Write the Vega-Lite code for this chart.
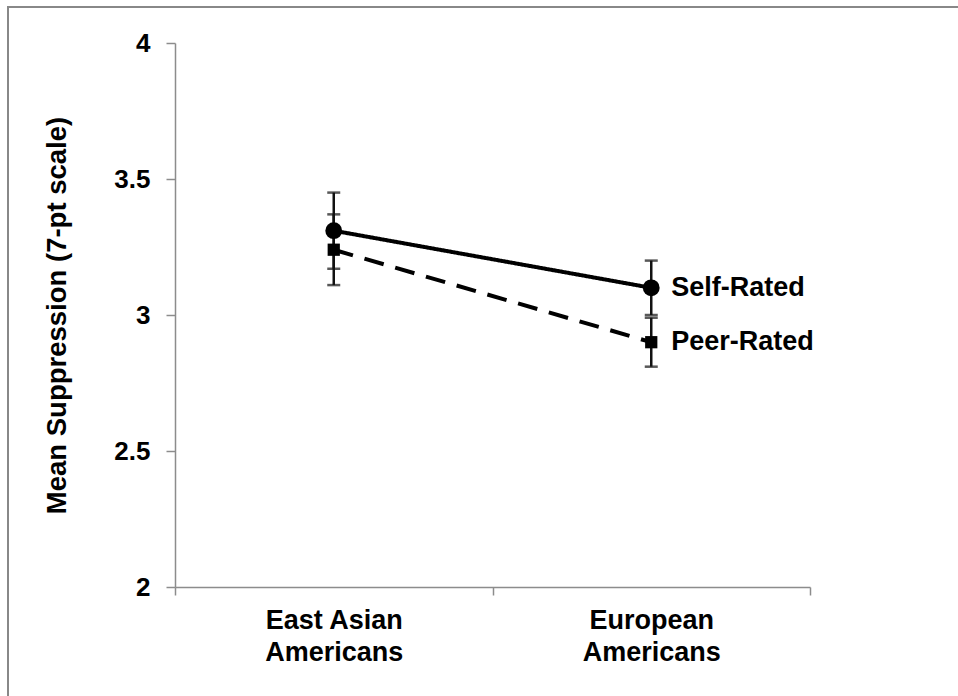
{
  "$schema": "https://vega.github.io/schema/vega-lite/v6.json",
  "width": 950,
  "height": 689,
  "autosize": {"type": "none"},
  "padding": {"left": 8, "top": 7, "right": 0, "bottom": 0},
  "background": "white",
  "config": {
    "view": {"stroke": "#888888", "strokeWidth": 2, "strokeDash": [950, 1639, 689, 1]},
    "font": "Liberation Sans",
    "axis": {
      "grid": false,
      "domainColor": "#8c8c8c",
      "tickColor": "#8c8c8c",
      "domainWidth": 1.5,
      "tickWidth": 1.5,
      "labelFont": "Liberation Sans",
      "labelFontWeight": "bold",
      "labelColor": "black",
      "titleFont": "Liberation Sans",
      "titleFontWeight": "bold",
      "titleColor": "black"
    }
  },
  "data": {
    "values": [
      {"group": "East Asian Americans", "rating": "Self-Rated", "mean": 3.31, "lo": 3.17, "hi": 3.45},
      {"group": "European Americans", "rating": "Self-Rated", "mean": 3.10, "lo": 3.00, "hi": 3.20},
      {"group": "East Asian Americans", "rating": "Peer-Rated", "mean": 3.24, "lo": 3.11, "hi": 3.37},
      {"group": "European Americans", "rating": "Peer-Rated", "mean": 2.90, "lo": 2.81, "hi": 2.99}
    ]
  },
  "encoding": {
    "x": {
      "field": "group",
      "type": "nominal",
      "sort": ["East Asian Americans", "European Americans"],
      "scale": {"type": "band", "range": [167, 802], "paddingInner": 0, "paddingOuter": 0},
      "axis": {
        "title": null,
        "orient": "bottom",
        "offset": -109,
        "tickBand": "extent",
        "labelAngle": 0,
        "tickSize": 8,
        "labelPadding": 12,
        "labelFontSize": 27,
        "labelLineHeight": 32,
        "labelExpr": "datum.label == 'East Asian Americans' ? ['East Asian', 'Americans'] : datum.label == 'European Americans' ? ['European', 'Americans'] : ''"
      }
    }
  },
  "layer": [
    {
      "mark": {"type": "rule", "color": "#111111", "strokeWidth": 2.5},
      "encoding": {
        "y": {"field": "lo", "type": "quantitative", "title": "Mean Suppression (7-pt scale)", "scale": {"domain": [2, 4], "range": [580, 36], "nice": false, "zero": false}},
        "y2": {"field": "hi"}
      }
    },
    {
      "mark": {"type": "tick", "color": "#111111", "size": 13, "thickness": 2.5},
      "encoding": {
        "y": {"field": "lo", "type": "quantitative", "title": "Mean Suppression (7-pt scale)", "scale": {"domain": [2, 4], "range": [580, 36], "nice": false, "zero": false}}
      }
    },
    {
      "mark": {"type": "tick", "color": "#111111", "size": 13, "thickness": 2.5},
      "encoding": {
        "y": {"field": "hi", "type": "quantitative", "title": "Mean Suppression (7-pt scale)", "scale": {"domain": [2, 4], "range": [580, 36], "nice": false, "zero": false}}
      }
    },
    {
      "mark": {"type": "line", "color": "black", "strokeWidth": 4},
      "encoding": {
        "y": {
          "field": "mean",
          "type": "quantitative",
          "title": "Mean Suppression (7-pt scale)",
          "scale": {"domain": [2, 4], "range": [580, 36], "nice": false, "zero": false},
          "axis": {
            "orient": "left",
            "offset": -167,
            "values": [2, 2.5, 3, 3.5, 4],
            "format": "~g",
            "tickSize": 9,
            "labelPadding": 16,
            "labelFontSize": 26,
            "titleFontSize": 27.5,
            "titlePadding": 42
          }
        },
        "strokeDash": {
          "field": "rating",
          "type": "nominal",
          "scale": {"domain": ["Self-Rated", "Peer-Rated"], "range": [[1, 0], [20, 12]]},
          "legend": null
        }
      }
    },
    {
      "mark": {"type": "point", "filled": true, "color": "black", "opacity": 1},
      "encoding": {
        "y": {"field": "mean", "type": "quantitative", "title": "Mean Suppression (7-pt scale)", "scale": {"domain": [2, 4], "range": [580, 36], "nice": false, "zero": false}},
        "shape": {
          "field": "rating",
          "type": "nominal",
          "scale": {"domain": ["Self-Rated", "Peer-Rated"], "range": ["circle", "square"]},
          "legend": null
        },
        "size": {
          "field": "rating",
          "type": "nominal",
          "scale": {"domain": ["Self-Rated", "Peer-Rated"], "range": [283, 150]},
          "legend": null
        }
      }
    },
    {
      "transform": [{"filter": "datum.group == 'European Americans'"}],
      "mark": {"type": "text", "align": "left", "baseline": "middle", "dx": 20, "fontSize": 27, "fontWeight": "bold", "color": "black"},
      "encoding": {
        "y": {"field": "mean", "type": "quantitative", "title": "Mean Suppression (7-pt scale)", "scale": {"domain": [2, 4], "range": [580, 36], "nice": false, "zero": false}},
        "text": {"field": "rating", "type": "nominal"}
      }
    }
  ]
}
